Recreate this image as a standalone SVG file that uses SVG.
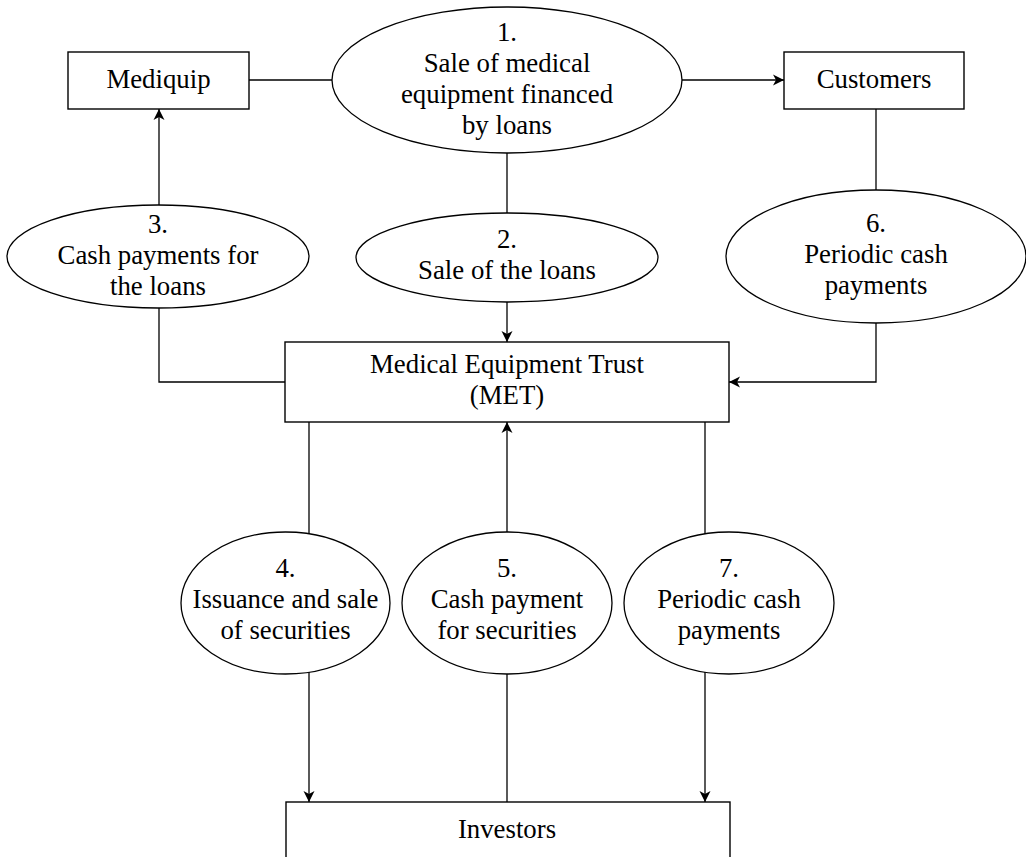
<svg xmlns="http://www.w3.org/2000/svg" width="1026" height="857" viewBox="0 0 1026 857">
<style>
.box{fill:#fff;stroke:#000;stroke-width:1.4}
.ell{fill:#fff;stroke:#000;stroke-width:1.3}
.ln{fill:none;stroke:#000;stroke-width:1.3}
.t{font-family:'Liberation Serif','Times New Roman',serif;font-size:26.8px;fill:#000;text-anchor:middle}
</style>
<defs>
<marker id="arr" markerUnits="userSpaceOnUse" markerWidth="12" markerHeight="12" viewBox="0 0 12 12" refX="11" refY="6" orient="auto">
<path d="M0,0.5 L11,6 L0,11.5 L3,6 Z" fill="#000"/>
</marker>
</defs>
<rect width="1026" height="857" fill="#fff"/>
<g id="connectors">
<line class="ln" x1="249" y1="80" x2="332" y2="80"/>
<line class="ln" x1="682" y1="80" x2="784" y2="80" marker-end="url(#arr)"/>
<line class="ln" x1="507" y1="153" x2="507" y2="213"/>
<line class="ln" x1="507" y1="302" x2="507" y2="342" marker-end="url(#arr)"/>
<line class="ln" x1="159" y1="205" x2="159" y2="109" marker-end="url(#arr)"/>
<polyline class="ln" points="159,308 159,382 285,382"/>
<line class="ln" x1="876" y1="109" x2="876" y2="190"/>
<polyline class="ln" points="876,323 876,382 729,382" marker-end="url(#arr)"/>
<line class="ln" x1="309" y1="422" x2="309" y2="534"/>
<line class="ln" x1="309" y1="672" x2="309" y2="802" marker-end="url(#arr)"/>
<line class="ln" x1="507" y1="802" x2="507" y2="674"/>
<line class="ln" x1="507" y1="532" x2="507" y2="422" marker-end="url(#arr)"/>
<line class="ln" x1="705" y1="422" x2="705" y2="534"/>
<line class="ln" x1="705" y1="672" x2="705" y2="802" marker-end="url(#arr)"/>
</g>
<g id="mediquip">
<rect class="box" x="68" y="52" width="181" height="57"/>
<text class="t" x="158.5" y="88">Mediquip</text>
</g>
<g id="customers">
<rect class="box" x="784" y="52" width="180" height="57"/>
<text class="t" x="874" y="88">Customers</text>
</g>
<g id="step1">
<ellipse class="ell" cx="507" cy="80" rx="175" ry="73"/>
<text class="t" x="507" y="41">1.</text>
<text class="t" x="507" y="72">Sale of medical</text>
<text class="t" x="507" y="103">equipment financed</text>
<text class="t" x="507" y="134">by loans</text>
</g>
<g id="step2">
<ellipse class="ell" cx="507" cy="257.5" rx="151" ry="44.5"/>
<text class="t" x="507" y="248">2.</text>
<text class="t" x="507" y="279">Sale of the loans</text>
</g>
<g id="step3">
<ellipse class="ell" cx="158" cy="256.5" rx="151" ry="51.5"/>
<text class="t" x="158" y="233">3.</text>
<text class="t" x="158" y="264">Cash payments for</text>
<text class="t" x="158" y="295">the loans</text>
</g>
<g id="step6">
<ellipse class="ell" cx="876" cy="256.5" rx="150" ry="66.5"/>
<text class="t" x="876" y="232">6.</text>
<text class="t" x="876" y="263">Periodic cash</text>
<text class="t" x="876" y="294">payments</text>
</g>
<g id="met">
<rect class="box" x="285" y="342" width="444" height="80"/>
<text class="t" x="507" y="373">Medical Equipment Trust</text>
<text class="t" x="507" y="404">(MET)</text>
</g>
<g id="step4">
<ellipse class="ell" cx="285.5" cy="603" rx="104.5" ry="71"/>
<text class="t" x="285.5" y="577">4.</text>
<text class="t" x="285.5" y="608">Issuance and sale</text>
<text class="t" x="285.5" y="639">of securities</text>
</g>
<g id="step5">
<ellipse class="ell" cx="507" cy="603" rx="105" ry="71"/>
<text class="t" x="507" y="577">5.</text>
<text class="t" x="507" y="608">Cash payment</text>
<text class="t" x="507" y="639">for securities</text>
</g>
<g id="step7">
<ellipse class="ell" cx="729" cy="603" rx="105" ry="71"/>
<text class="t" x="729" y="577">7.</text>
<text class="t" x="729" y="608">Periodic cash</text>
<text class="t" x="729" y="639">payments</text>
</g>
<g id="investors">
<rect class="box" x="286" y="802" width="444" height="70"/>
<text class="t" x="507" y="838">Investors</text>
</g>
</svg>
